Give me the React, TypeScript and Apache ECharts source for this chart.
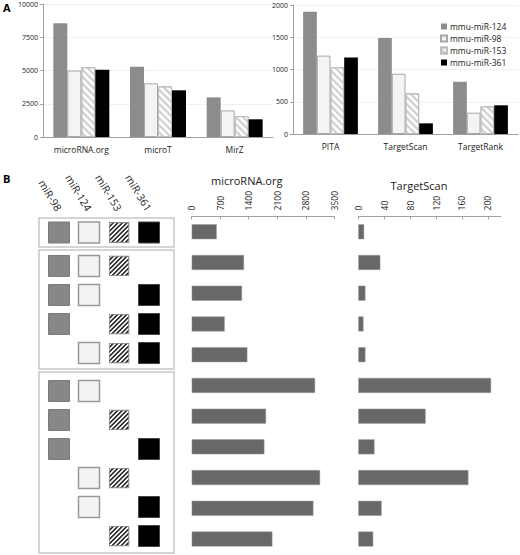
import React, { useEffect, useRef } from 'react';
import * as echarts from 'echarts';

// ---------- Panel A data ----------
const toolsA1 = ['microRNA.org', 'microT', 'MirZ'];
const toolsA2 = ['PITA', 'TargetScan', 'TargetRank'];
const mirNames = ['mmu-miR-124', 'mmu-miR-98', 'mmu-miR-153', 'mmu-miR-361'];
const miR124A1 = [8550, 5290, 2980];
const miR98A1 = [5000, 4040, 2000];
const miR153A1 = [5250, 3810, 1580];
const miR361A1 = [5050, 3510, 1330];
const miR124A2 = [1895, 1490, 810];
const miR98A2 = [1215, 935, 330];
const miR153A2 = [1035, 630, 430];
const miR361A2 = [1185, 165, 445];

// ---------- Panel B data ----------
const matrixCols = ['miR-98', 'miR-124', 'miR-153', 'miR-361'];
const combos = [
  [1, 1, 1, 1],
  [1, 1, 1, 0],
  [1, 1, 0, 1],
  [1, 0, 1, 1],
  [0, 1, 1, 1],
  [1, 1, 0, 0],
  [1, 0, 1, 0],
  [1, 0, 0, 1],
  [0, 1, 1, 0],
  [0, 1, 0, 1],
  [0, 0, 1, 1],
];
const groupSizes = [1, 4, 6];
const microRNAorgCounts = [614, 1284, 1235, 810, 1366, 3029, 1825, 1784, 3151, 2987, 1980];
const targetScanCounts = [9, 34, 11, 8, 11, 205, 104, 25, 170, 36, 23];
const microRNAorgTicks = [0, 3500, 700];
const targetScanTicks = [0, 220, 40];

const FONT = 'Open Sans';
const plain = (v: number) => String(v);

const hatchSvg =
  "<svg xmlns='http://www.w3.org/2000/svg' width='42' height='42' viewBox='0 0 21 21'>" +
  "<defs><pattern id='p' width='3.2' height='3.2' patternUnits='userSpaceOnUse' patternTransform='rotate(45)'>" +
  "<rect width='3.2' height='3.2' fill='#ffffff'/><rect width='1.5' height='3.2' fill='#1a1a1a'/></pattern></defs>" +
  "<rect x='0.6' y='0.6' width='19.8' height='19.8' fill='url(#p)' stroke='#8a8a8a' stroke-width='1.2'/></svg>";
const hatchSymbol = 'image://data:image/svg+xml;charset=utf-8,' + encodeURIComponent(hatchSvg);

const lightDecal = {
  symbol: 'rect',
  symbolSize: 1,
  dashArrayX: [1, 0],
  dashArrayY: [1.1, 2.1],
  rotation: Math.PI / 4,
  color: 'rgba(150,150,150,0.45)',
};

const seriesStylesA = [
  { color: '#8c8c8c' },
  { color: '#f4f4f4', borderColor: '#a8a8a8', borderWidth: 1 },
  { color: '#fbfbfb', borderColor: '#bdbdbd', borderWidth: 1, decal: lightDecal },
  { color: '#000000' },
];

const squareStyles: any[] = [
  { symbol: 'rect', itemStyle: { color: '#878787', borderColor: '#7a7a7a', borderWidth: 1, opacity: 1 } },
  { symbol: 'rect', itemStyle: { color: '#f3f3f3', borderColor: '#9a9a9a', borderWidth: 1.5, opacity: 1 } },
  { symbol: hatchSymbol, itemStyle: { opacity: 1 } },
  { symbol: 'rect', itemStyle: { color: '#000000', borderColor: '#444444', borderWidth: 1, opacity: 1 } },
];

function buildOption() {
  const aData1 = [miR124A1, miR98A1, miR153A1, miR361A1];
  const aData2 = [miR124A2, miR98A2, miR153A2, miR361A2];

  const grids: any[] = [
    { left: 43, top: 4, width: 230, height: 133 }, // 0 A1
    { left: 293, top: 5, width: 225, height: 129 }, // 1 A2
    { left: 39, top: 218, width: 135, height: 29, show: true, borderColor: '#c8c8c8', borderWidth: 1.5 }, // 2
    { left: 39, top: 250, width: 135, height: 119, show: true, borderColor: '#c8c8c8', borderWidth: 1.5 }, // 3
    { left: 39, top: 372, width: 135, height: 181, show: true, borderColor: '#c8c8c8', borderWidth: 1.5 }, // 4
    { left: 44, top: 218, width: 120, height: 29 }, // 5 labels
    { left: 191.7, top: 216.4, width: 142.6, height: 338 }, // 6
    { left: 358.3, top: 216.4, width: 142.5, height: 338 }, // 7
  ];

  const axisLabelA = { fontSize: 8.5, color: '#222', fontFamily: FONT };
  const xAxes: any[] = [
    {
      gridIndex: 0, type: 'category', data: toolsA1,
      axisLine: { lineStyle: { color: '#a0a0a0' } },
      axisTick: { length: 3, lineStyle: { color: '#a0a0a0' } },
      axisLabel: { ...axisLabelA, margin: 8 },
    },
    {
      gridIndex: 1, type: 'category', data: toolsA2,
      axisLine: { lineStyle: { color: '#a0a0a0' } },
      axisTick: { length: 3, lineStyle: { color: '#a0a0a0' } },
      axisLabel: { ...axisLabelA, margin: 8 },
    },
  ];
  const yAxes: any[] = [
    {
      gridIndex: 0, type: 'value', min: 0, max: 10000, interval: 2500,
      axisLine: { show: true, lineStyle: { color: '#a0a0a0' } },
      axisTick: { show: true, length: 3, lineStyle: { color: '#a0a0a0' } },
      axisLabel: { fontSize: 7, color: '#222', fontFamily: FONT, margin: 5, formatter: plain },
      splitLine: { lineStyle: { color: '#f0f0f0' } },
    },
    {
      gridIndex: 1, type: 'value', min: 0, max: 2000, interval: 500,
      axisLine: { show: true, lineStyle: { color: '#a0a0a0' } },
      axisTick: { show: true, length: 3, lineStyle: { color: '#a0a0a0' } },
      axisLabel: { fontSize: 7, color: '#222', fontFamily: FONT, margin: 5, formatter: plain },
      splitLine: { lineStyle: { color: '#f0f0f0' } },
    },
  ];

  const matrixY = [
    [-0.5, 0.5],
    [-0.55, 3.55],
    [-0.655, 5.586],
  ];
  for (let g = 0; g < 3; g++) {
    xAxes.push({ gridIndex: 2 + g, type: 'value', min: -0.667, max: 3.833, show: false });
    yAxes.push({ gridIndex: 2 + g, type: 'value', inverse: true, min: matrixY[g][0], max: matrixY[g][1], show: false });
  }
  // label axis
  xAxes.push({
    gridIndex: 5, type: 'category', data: matrixCols, position: 'top',
    axisLine: { show: false }, axisTick: { show: false },
    axisLabel: { rotate: -59, margin: 8, fontSize: 10.5, color: '#222', fontFamily: FONT },
  });
  yAxes.push({ gridIndex: 5, type: 'value', min: 0, max: 1, show: false });

  const rowNames = combos.map((c) => c.map((v, i) => (v ? matrixCols[i] : null)).filter(Boolean).join(' + '));
  const barAxisLabel = { rotate: -90, fontSize: 8.5, color: '#222', fontFamily: FONT, margin: 6, formatter: plain };
  xAxes.push({
    gridIndex: 6, type: 'value', position: 'top',
    min: microRNAorgTicks[0], max: microRNAorgTicks[1], interval: microRNAorgTicks[2],
    axisLine: { show: true, lineStyle: { color: '#a0a0a0' } },
    axisTick: { show: true, inside: true, length: 3, lineStyle: { color: '#a0a0a0' } },
    axisLabel: barAxisLabel,
    splitLine: { show: false },
  });
  yAxes.push({ gridIndex: 6, type: 'category', data: rowNames, inverse: true, show: false });
  xAxes.push({
    gridIndex: 7, type: 'value', position: 'top',
    min: targetScanTicks[0], max: targetScanTicks[1], interval: targetScanTicks[2],
    axisLine: { show: true, lineStyle: { color: '#a0a0a0' } },
    axisTick: { show: true, inside: true, length: 3, lineStyle: { color: '#a0a0a0' } },
    axisLabel: { ...barAxisLabel, showMaxLabel: false },
    splitLine: { show: false },
  });
  yAxes.push({ gridIndex: 7, type: 'category', data: rowNames, inverse: true, show: false });

  const series: any[] = [];
  for (let i = 0; i < 4; i++) {
    series.push({
      type: 'bar', name: mirNames[i], xAxisIndex: 0, yAxisIndex: 0, data: aData1[i],
      itemStyle: seriesStylesA[i], barGap: '0%', barCategoryGap: '27%',
    });
  }
  for (let i = 0; i < 4; i++) {
    series.push({
      type: 'bar', name: mirNames[i], xAxisIndex: 1, yAxisIndex: 1, data: aData2[i],
      itemStyle: seriesStylesA[i], barGap: '0%', barCategoryGap: '27%',
    });
  }

  let start = 0;
  groupSizes.forEach((size, g) => {
    const data: any[] = [];
    for (let r = start; r < start + size; r++) {
      combos[r].forEach((v, c) => {
        if (v) {
          data.push({ value: [c, r - start], symbol: squareStyles[c].symbol, itemStyle: squareStyles[c].itemStyle });
        }
      });
    }
    series.push({
      type: 'scatter', xAxisIndex: 2 + g, yAxisIndex: 2 + g, symbolSize: 21, data, silent: true,
      itemStyle: { opacity: 1 },
    });
    start += size;
  });

  series.push({
    type: 'bar', xAxisIndex: 6, yAxisIndex: 6, data: microRNAorgCounts, barWidth: 15,
    itemStyle: { color: '#686868', borderColor: '#9a9a9a', borderWidth: 0.5 },
  });
  series.push({
    type: 'bar', xAxisIndex: 7, yAxisIndex: 7, data: targetScanCounts, barWidth: 15,
    itemStyle: { color: '#686868', borderColor: '#9a9a9a', borderWidth: 0.5 },
  });

  return {
    animation: false,
    backgroundColor: '#ffffff',
    textStyle: { fontFamily: FONT },
    grid: grids,
    xAxis: xAxes,
    yAxis: yAxes,
    legend: {
      data: mirNames,
      orient: 'vertical',
      left: 435,
      top: 17,
      icon: 'rect',
      itemWidth: 6,
      itemHeight: 6,
      itemGap: 3,
      textStyle: { fontSize: 8.5, color: '#222', fontFamily: FONT, padding: [0, 0, 0, -2] },
    },
    graphic: [
      { type: 'text', left: 3, top: 2, style: { text: 'A', fontSize: 11, fontWeight: 'bold', fill: '#000', fontFamily: FONT } },
      { type: 'text', left: 3, top: 173, style: { text: 'B', fontSize: 11, fontWeight: 'bold', fill: '#000', fontFamily: FONT } },
      { type: 'text', x: 246.7, y: 180, style: { text: 'microRNA.org', fontSize: 11, fill: '#222', fontFamily: FONT, textAlign: 'center', textVerticalAlign: 'middle' } },
      { type: 'text', x: 419, y: 185, style: { text: 'TargetScan', fontSize: 11, fill: '#222', fontFamily: FONT, textAlign: 'center', textVerticalAlign: 'middle' } },
    ],
    series,
  };
}

export default function App() {
  const ref = useRef<HTMLDivElement>(null);
  useEffect(() => {
    document.body.style.margin = '0';
    if (!ref.current) return;
    const chart = echarts.init(ref.current, undefined, { renderer: 'svg' });
    chart.setOption(buildOption() as any);
    return () => chart.dispose();
  }, []);
  return <div ref={ref} style={{ width: 520, height: 555 }} />;
}
